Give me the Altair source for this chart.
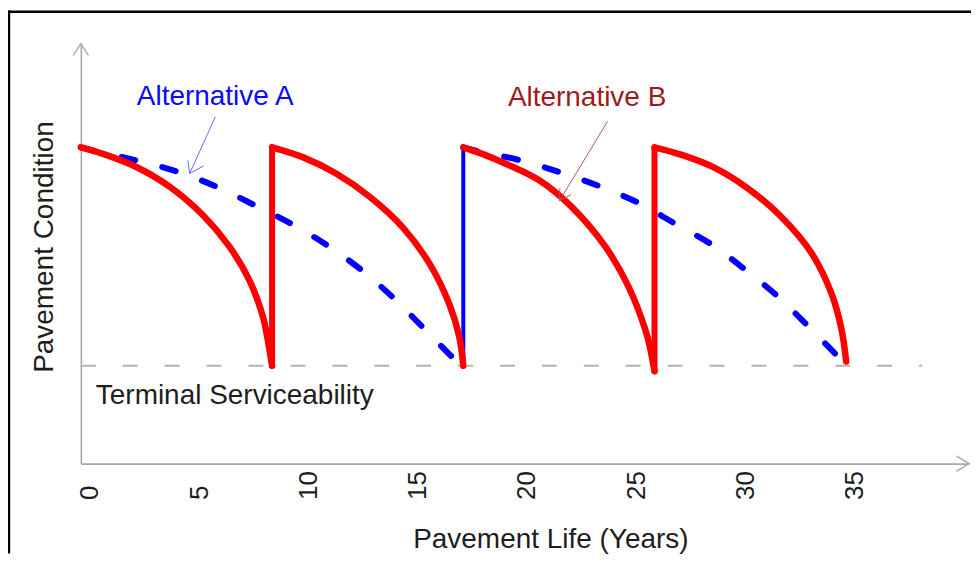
import altair as alt
import pandas as pd

FONT = "Liberation Sans"

# ---- axis ticks ----
x_ticks = [0, 5, 10, 15, 20, 25, 30, 35]
x_domain = [0, 40.64]
y_domain = [1.605, 5.45]

# ---- Alternative B (red, solid) : four rehabilitation cycles ----
red_c1_year = [0.0, 1.02, 2.54, 4.06, 5.58, 6.80, 7.72, 8.33, 8.55, 8.75]
red_c1_psi = [4.50, 4.44, 4.32, 4.14, 3.88, 3.59, 3.28, 2.95, 2.74, 2.50]
red_c2_year = [8.75, 10.15, 11.68, 13.20, 14.72, 15.94, 16.85, 17.31, 17.50]
red_c2_psi = [4.50, 4.41, 4.26, 4.05, 3.77, 3.44, 3.07, 2.77, 2.50]
red_c3_year = [17.50, 18.37, 19.44, 20.96, 22.48, 24.00, 25.07, 25.83, 26.03, 26.25]
red_c3_psi = [4.50, 4.44, 4.35, 4.20, 3.95, 3.59, 3.22, 2.83, 2.68, 2.45]
red_c4_year = [26.25, 27.50, 29.03, 30.55, 32.07, 33.44, 34.35, 34.80, 35.02]
red_c4_psi = [4.50, 4.43, 4.31, 4.12, 3.86, 3.53, 3.16, 2.84, 2.54]
red_jump_year = [8.75, 26.25]
red_jump_low = [2.50, 2.45]
red_jump_high = [4.50, 4.50]

# ---- Alternative A (blue, dashed) : two cycles ----
blue_c1_year = [0.0, 0.56, 2.54, 4.37, 6.20, 7.95, 9.62, 11.22, 12.82, 14.26, 15.71, 17.16, 17.50]
blue_c1_psi = [4.50, 4.47, 4.38, 4.28, 4.14, 3.97, 3.80, 3.61, 3.38, 3.13, 2.84, 2.55, 2.50]
blue_c2_year = [17.50, 18.07, 20.12, 21.95, 23.78, 25.53, 27.20, 28.87, 30.40, 31.92, 33.29, 34.66, 35.12]
blue_c2_psi = [4.50, 4.47, 4.38, 4.27, 4.14, 3.99, 3.80, 3.61, 3.38, 3.13, 2.86, 2.58, 2.47]
blue_jump_year = [17.50]
blue_jump_low = [2.50]
blue_jump_high = [4.50]

# ---- terminal serviceability ----
terminal_psi = 2.5
terminal_start = 0.0
terminal_end = 38.5

# ---- annotations ----
label_a = {"text": "Alternative A", "year": 2.56, "psi": 4.884}
label_b = {"text": "Alternative B", "year": 19.54, "psi": 4.874}
label_t = {"text": "Terminal Serviceability", "year": 0.685, "psi": 2.153}
pointer_a_year = [6.151, 4.977]
pointer_a_psi = [4.777, 4.260]
head_a_year = [4.900, 4.977, 5.616]
head_a_psi = [4.381, 4.260, 4.329]
pointer_b_year = [24.10, 21.904]
pointer_b_psi = [4.737, 4.010]
head_b_year = [21.918, 21.904, 22.429]
head_b_psi = [4.128, 4.010, 4.067]

# ---------------------------------------------------------------
def cycles(pairs):
    rows = []
    for c, (ys, ps) in enumerate(pairs):
        for i, (a, b) in enumerate(zip(ys, ps)):
            rows.append({"year": a, "psi": b, "cycle": c, "order": i})
    return pd.DataFrame(rows)

red_df = cycles([(red_c1_year, red_c1_psi), (red_c2_year, red_c2_psi),
                 (red_c3_year, red_c3_psi), (red_c4_year, red_c4_psi)])
blue_df = cycles([(blue_c1_year, blue_c1_psi), (blue_c2_year, blue_c2_psi)])
red_jumps = pd.DataFrame({"year": red_jump_year, "psi": red_jump_low, "psi2": red_jump_high})
blue_jumps = pd.DataFrame({"year": blue_jump_year, "psi": blue_jump_low, "psi2": blue_jump_high})
terminal_df = pd.DataFrame({"year": [terminal_start], "year2": [terminal_end], "psi": [terminal_psi]})

pointer_a = pd.DataFrame({"year": pointer_a_year, "psi": pointer_a_psi, "order": [0, 1]})
head_a = pd.DataFrame({"year": head_a_year, "psi": head_a_psi, "order": [0, 1, 2]})
pointer_b = pd.DataFrame({"year": pointer_b_year, "psi": pointer_b_psi, "order": [0, 1]})
head_b = pd.DataFrame({"year": head_b_year, "psi": head_b_psi, "order": [0, 1, 2]})

xs = alt.Scale(domain=x_domain, nice=False, zero=False)
ys = alt.Scale(domain=y_domain, nice=False, zero=False)

AXIS_GRAY = "#a9a9a9"
TEXT = "#1e1e1e"

x_axis = alt.Axis(
    values=x_ticks, format="d", title="Pavement Life (Years)", grid=False,
    ticks=False, tickSize=0, labelAngle=270, labelAlign="left", labelBaseline="middle",
    labelPadding=36, labelOffset=9, labelFontSize=26, labelFont=FONT, labelColor=TEXT,
    labelFlush=False, labelOverlap=False, domainColor=AXIS_GRAY, domainWidth=1.6,
    titleFont=FONT, titleFontSize=28, titleFontWeight="normal", titleColor=TEXT,
    titleX=470.5, titleY=84.3, titleAlign="center", titleBaseline="alphabetic",
)
y_axis = alt.Axis(
    title="Pavement Condition", labels=False, ticks=False, tickSize=0, grid=False,
    domainColor=AXIS_GRAY, domainWidth=1.6, titleFont=FONT, titleFontSize=28,
    titleFontWeight="normal", titleColor=TEXT, titleAngle=270, titleX=-28, titleY=203.5,
    titleAlign="center", titleBaseline="alphabetic",
)

X = alt.X("year:Q", scale=xs, axis=x_axis)
Y = alt.Y("psi:Q", scale=ys, axis=y_axis)

terminal = alt.Chart(terminal_df).mark_rule(
    color="#b3b3b3", strokeWidth=2, strokeDash=[15, 27]
).encode(x=X, x2="year2:Q", y=Y)

arrow_df = pd.DataFrame({"year": [x_domain[1], 0.0], "psi": [y_domain[0], y_domain[1]],
                         "which": ["x", "y"]})
x_arrow = alt.Chart(arrow_df[arrow_df.which == "x"]).mark_point(
    shape="M -1 -0.62 L 0 0 L -1 0.62", size=640, filled=False, color=AXIS_GRAY,
    strokeWidth=1.4, opacity=1
).encode(x=X, y=Y)
y_arrow = alt.Chart(arrow_df[arrow_df.which == "y"]).mark_point(
    shape="M -0.62 1 L 0 0 L 0.62 1", size=600, filled=False, color=AXIS_GRAY,
    strokeWidth=1.4, opacity=1
).encode(x=X, y=Y)

blue_line = alt.Chart(blue_df).mark_line(
    color="#0000ff", strokeWidth=6, strokeDash=[14, 28], strokeCap="round",
    interpolate="catmull-rom"
).encode(x=X, y=Y, detail="cycle:N", order="order:Q")
blue_jump = alt.Chart(blue_jumps).mark_rule(color="#0000ff", strokeWidth=4).encode(
    x=X, y=Y, y2="psi2:Q")

red_line = alt.Chart(red_df).mark_line(
    color="#ff0000", strokeWidth=6.5, strokeCap="round", strokeJoin="round",
    interpolate="catmull-rom"
).encode(x=X, y=Y, detail="cycle:N", order="order:Q")
red_jump = alt.Chart(red_jumps).mark_rule(
    color="#ff0000", strokeWidth=6, strokeCap="round").encode(x=X, y=Y, y2="psi2:Q")

ptr_a = alt.Chart(pointer_a).mark_line(color="#6a6aff", strokeWidth=1).encode(
    x=X, y=Y, order="order:Q")
hd_a = alt.Chart(head_a).mark_line(color="#6a6aff", strokeWidth=1).encode(
    x=X, y=Y, order="order:Q")
ptr_b = alt.Chart(pointer_b).mark_line(color="#b35a5a", strokeWidth=1).encode(
    x=X, y=Y, order="order:Q")
hd_b = alt.Chart(head_b).mark_line(color="#b35a5a", strokeWidth=1).encode(
    x=X, y=Y, order="order:Q")

def label(d, color):
    return alt.Chart(pd.DataFrame([d])).mark_text(
        align="left", baseline="alphabetic", font=FONT, fontSize=28, color=color
    ).encode(x=X, y=Y, text="text:N")

txt_a = label(label_a, "#0a0aff")
txt_b = label(label_b, "#9e1a1a")
txt_t = label(label_t, TEXT)

frame_src = pd.DataFrame({"k": [0]})
frame_top = alt.Chart(frame_src).mark_rule(color="black", strokeWidth=2.4).encode(
    x=alt.value(-73), x2=alt.value(892), y=alt.value(-31.8))
frame_left = alt.Chart(frame_src).mark_rule(color="black", strokeWidth=2.2).encode(
    x=alt.value(-71.9), y=alt.value(-33), y2=alt.value(511))

chart = alt.layer(
    terminal, x_arrow, y_arrow, blue_line, blue_jump, red_line, red_jump,
    ptr_a, hd_a, ptr_b, hd_b, txt_a, txt_b, txt_t, frame_top, frame_left
).properties(
    width=890, height=421,
    background="white",
    autosize=alt.AutoSizeParams(type="none"),
    padding={"left": 73, "top": 35, "right": 2, "bottom": 90},
).configure_view(stroke="transparent", strokeWidth=0)

chart.save("out.html", embed_options={"renderer": "svg", "actions": False})
